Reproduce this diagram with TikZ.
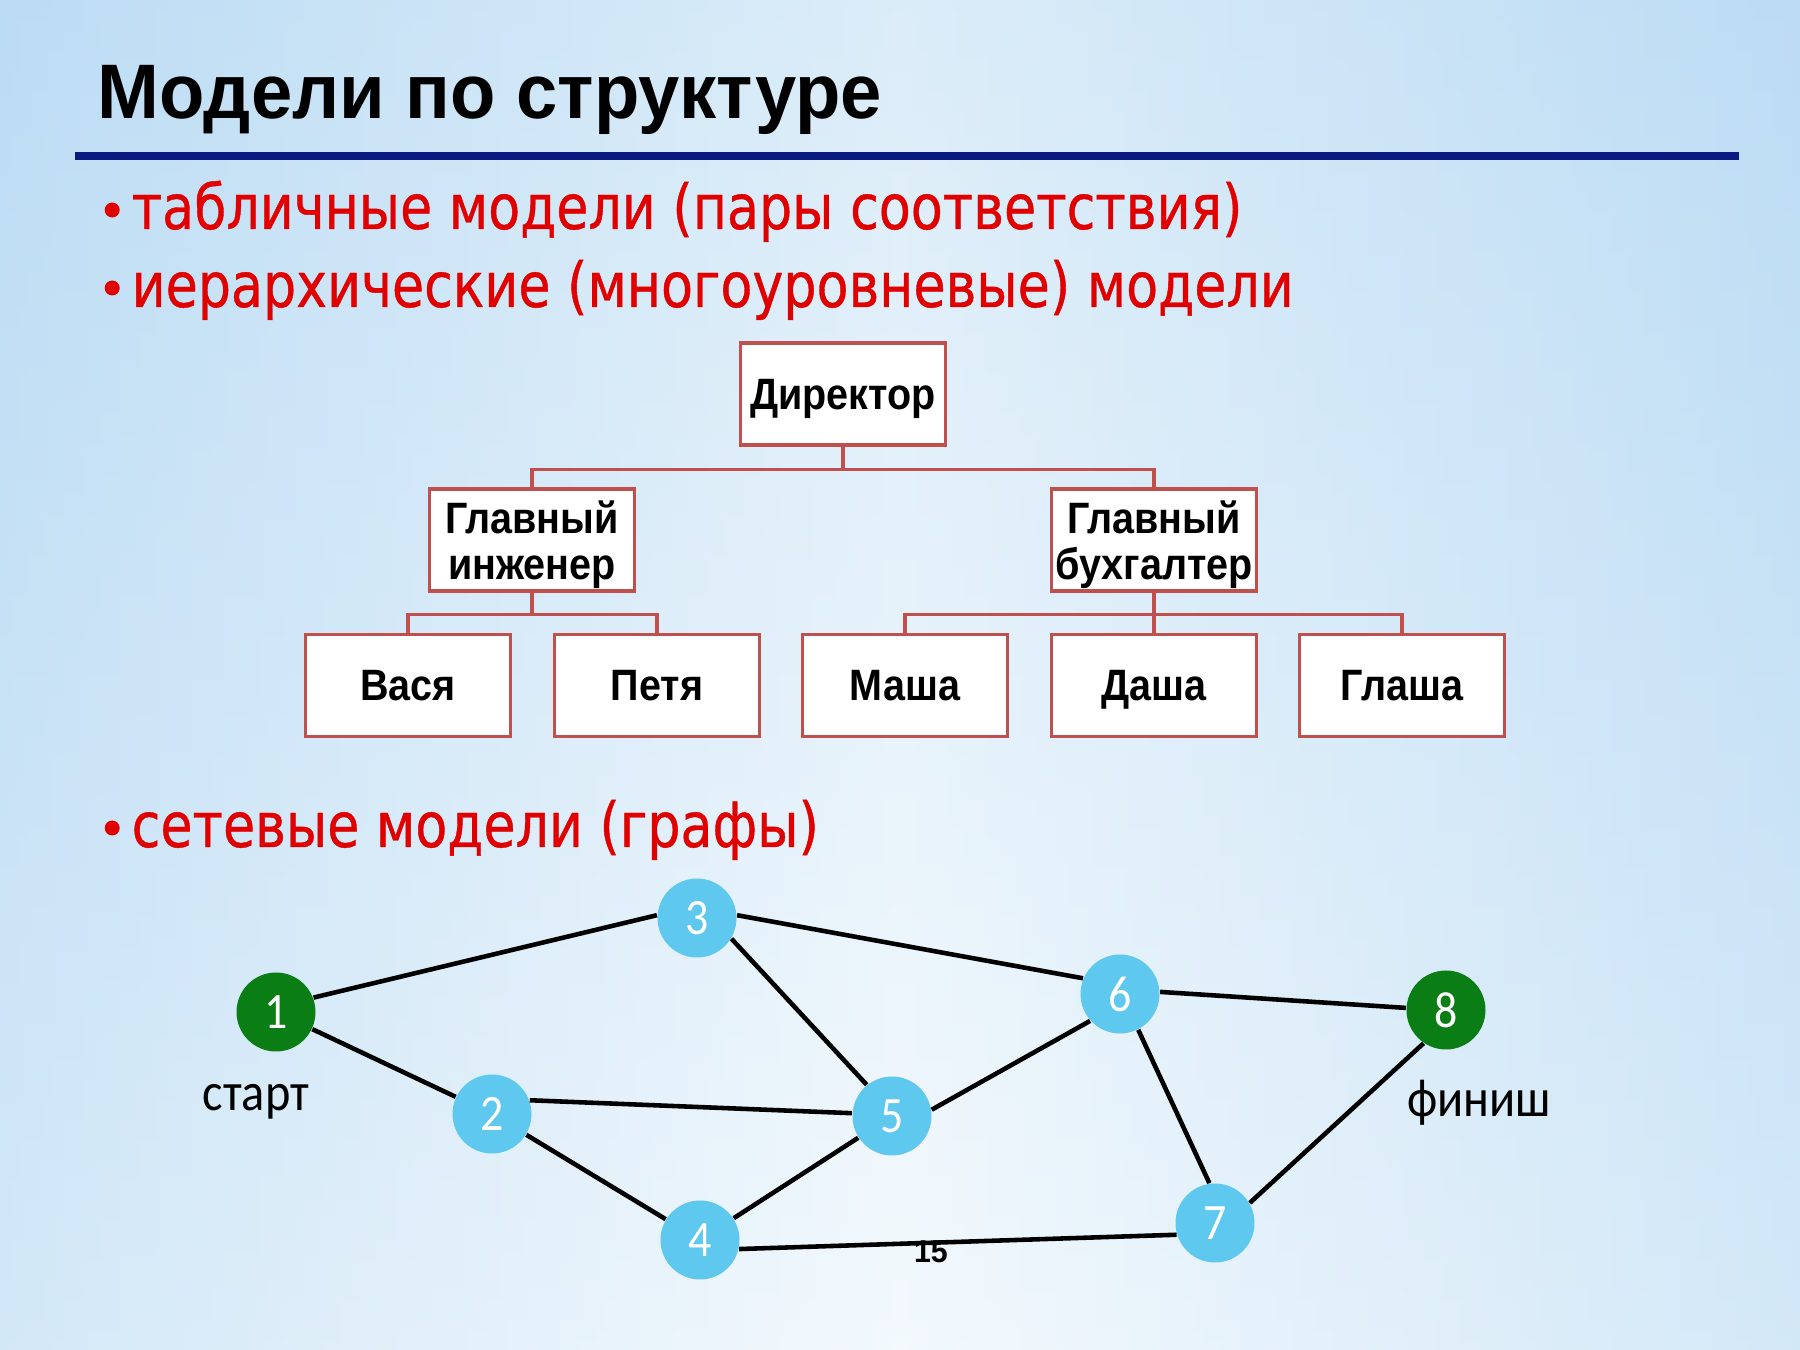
\documentclass[tikz,border=0pt]{standalone}
\usepackage{fontspec}
\usetikzlibrary{positioning, calc}
\setmainfont{Carlito}[FakeStretch=0.9]
\newfontfamily\headfont{Liberation Sans}[FakeStretch=0.96]
\newfontfamily\boxfont{Liberation Sans}[FakeStretch=0.9]
\newfontfamily\itemfont{DejaVu Sans}[FakeStretch=0.84, FakeBold=0.6]
\definecolor{slidesky}{HTML}{BCDCF4}
\definecolor{slidemist}{HTML}{EDF6FC}
\definecolor{rulenavy}{HTML}{0A1A80}
\definecolor{itemred}{HTML}{E00000}
\definecolor{boxred}{HTML}{C0504D}
\definecolor{vertblue}{HTML}{5EC8EE}
\definecolor{vertgreen}{HTML}{0A7D14}
\newcommand{\bulletdot}{%
  \tikz[baseline=0pt]{\fill[itemred] (0,0.19) circle (0.075);}\hspace{0.12cm}}

\begin{document}
\begin{tikzpicture}[
      orgbox/.style={draw=boxred, line width=0.9pt, fill=white,
                     minimum width=2.05cm, minimum height=1.02cm,
                     inner sep=0pt, align=center, text depth=0pt,
                     font=\boxfont\bfseries\fontsize{12.5}{13}\selectfont},
      link/.style={draw=boxred, line width=0.9pt},
      vertex/.style={circle, fill=vertblue, minimum size=0.79cm,
                     inner sep=0pt, text=white,
                     font=\fontsize{14.5}{15}\selectfont},
      terminal/.style={vertex, fill=vertgreen},
      wire/.style={line width=1.3pt, draw=black},
      itemtext/.style={anchor=base west, inner sep=0pt, text=itemred,
                       font=\itemfont\fontsize{17.7}{20}\selectfont},
      tag/.style={inner sep=0pt, font=\fontsize{15.3}{16}\selectfont}]
    % background of the slide
    \shade[left color=slidesky, right color=slidesky, middle color=slidemist]
      (0,0) rectangle (18,13.5);
    \shade[top color=slidesky, bottom color=white, opacity=0.35]
      (0,0) rectangle (18,13.5);
    \useasboundingbox (0,0) rectangle (18,13.5);

    % heading
    \node[anchor=base west, inner sep=0pt,
          font=\headfont\bfseries\fontsize{22}{26}\selectfont]
      (title) at (0.97,12.31) {Модели по структуре};
    \draw[rulenavy, line width=2pt] (0.75,11.94) -- (17.39,11.94);

    \node[itemtext] (tab)  at (1.04,11.21) {\bulletdot табличные модели (пары соответствия)};
    \node[itemtext] (hier) at (1.04,10.43) {\bulletdot иерархические (многоуровневые) модели};

    % hierarchy
    \node[orgbox] (dir) at (8.43,9.56) {Директор};
    \node[orgbox] (eng) at (5.32,8.10) {Главный\\инженер};
    \node[orgbox] (acc) at (11.54,8.10) {Главный\\бухгалтер};
    \node[orgbox] (vasya)  at (4.08,6.645)  {Вася};
    \node[orgbox] (petya)  at (6.57,6.645)  {Петя};
    \node[orgbox] (masha)  at (9.05,6.645)  {Маша};
    \node[orgbox] (dasha)  at (11.54,6.645) {Даша};
    \node[orgbox] (glasha) at (14.02,6.645) {Глаша};
    \foreach \kid in {eng,acc}
      \draw[link] (dir.south) -- ++(0,-0.23) -| (\kid.north);
    \foreach \kid in {vasya,petya}
      \draw[link] (eng.south) -- ++(0,-0.22) -| (\kid.north);
    \foreach \kid in {masha,dasha,glasha}
      \draw[link] (acc.south) -- ++(0,-0.22) -| (\kid.north);

    \node[itemtext] (net) at (1.04,5.03) {\bulletdot сетевые модели (графы)};

    % graph
    \node[terminal] (n1) at (2.76,3.38) {1};
    \node[vertex]   (n2) at (4.92,2.36) {2};
    \node[vertex]   (n3) at (6.97,4.32) {3};
    \node[vertex]   (n4) at (7.00,1.10) {4};
    \node[vertex]   (n5) at (8.92,2.34) {5};
    \node[vertex]   (n6) at (11.20,3.56) {6};
    \node[vertex]   (n7) at (12.15,1.27) {7};
    \node[terminal] (n8) at (14.46,3.40) {8};
    \draw[wire] (n1.21) -- (n3.176);
    \draw[wire] (n1) -- (n2);
    \draw[wire] (n2.20) -- (n5.176);
    \draw[wire] (n2) -- (n4);
    \draw[wire] (n3.-31) -- (n5.129);
    \draw[wire] (n3.4) -- (n6.157);
    \draw[wire] (n4) -- (n5);
    \draw[wire] (n4.-13) -- (n7.197);
    \draw[wire] (n5.9) -- (n6.222);
    \draw[wire] (n6.3) -- (n8.177);
    \draw[wire] (n6.-63) -- (n7.98);
    \draw[wire] (n7.30) -- (n8.236);
    \node[tag, below=0.31cm of n1, xshift=-2mm] (start) {старт};
    \node[tag, below=0.29cm of n8, xshift=3.3mm] (finish) {финиш};

    \node[font=\headfont\bfseries\fontsize{9}{10}\selectfont] (pgnum) at (9.31,0.98) {15};
  \end{tikzpicture}
\end{document}
